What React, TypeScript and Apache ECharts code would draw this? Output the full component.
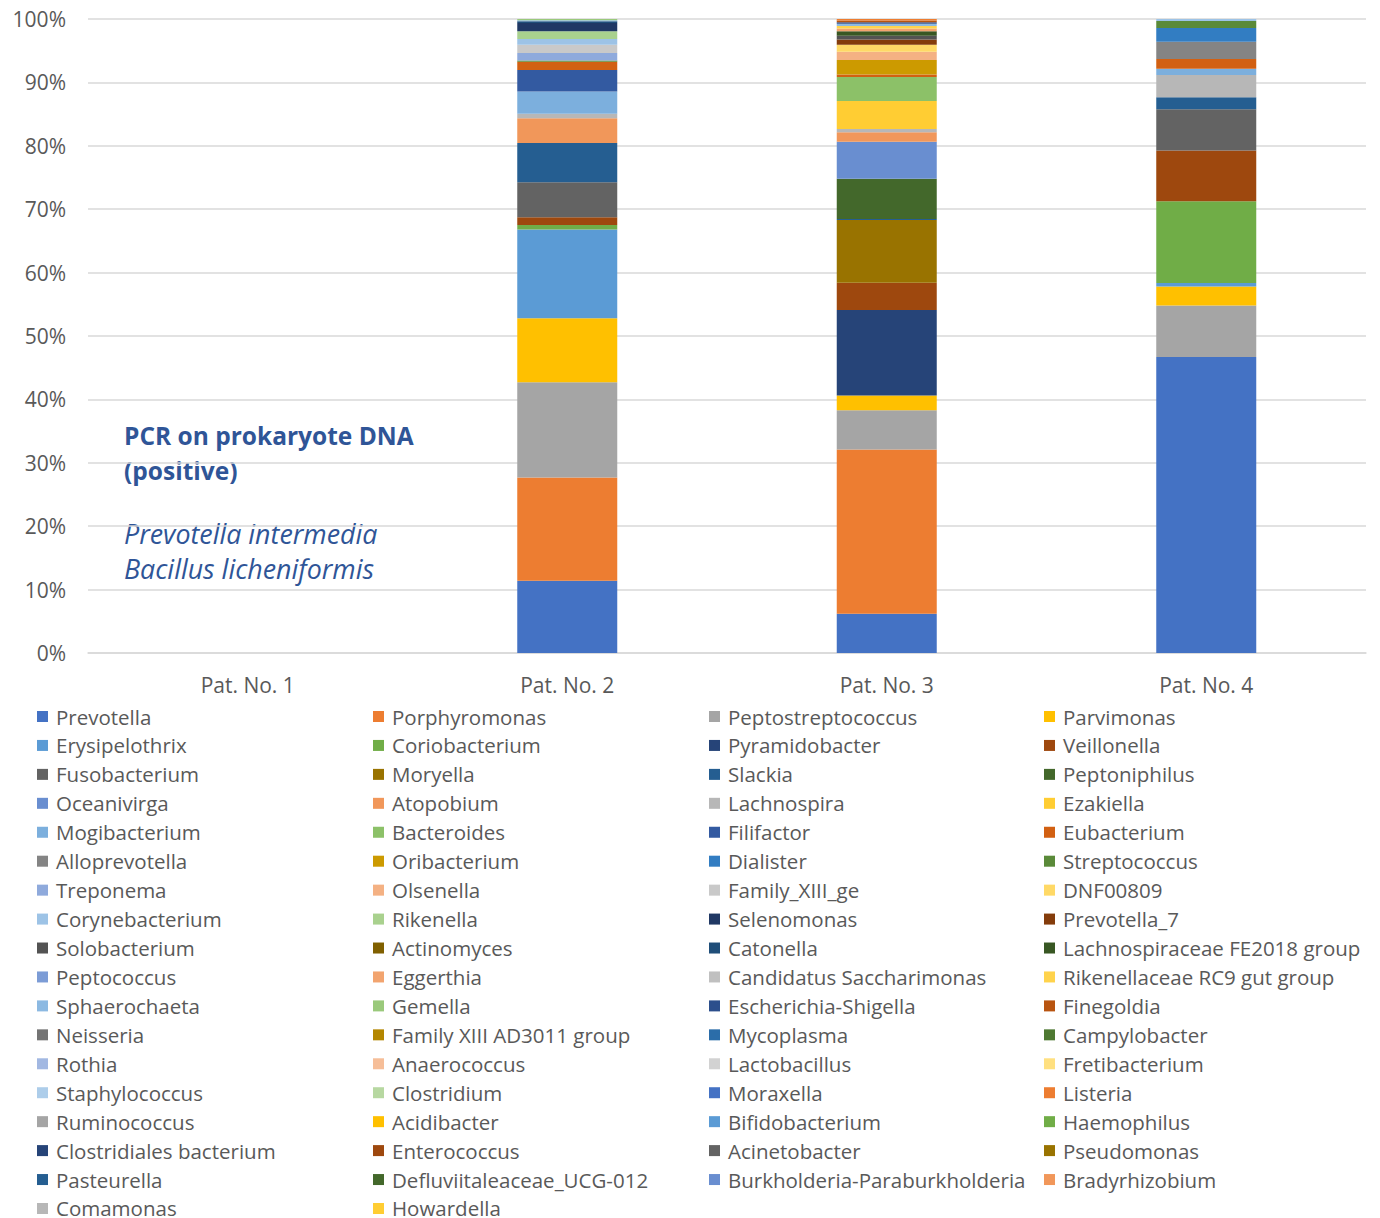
import React, { useEffect, useRef } from "react";
import * as echarts from "echarts";

const categories = ["Pat. No. 1", "Pat. No. 2", "Pat. No. 3", "Pat. No. 4"];

const genera = [
  "Prevotella", "Porphyromonas", "Peptostreptococcus", "Parvimonas",
  "Erysipelothrix", "Coriobacterium", "Pyramidobacter", "Veillonella",
  "Fusobacterium", "Moryella", "Slackia", "Peptoniphilus",
  "Oceanivirga", "Atopobium", "Lachnospira", "Ezakiella",
  "Mogibacterium", "Bacteroides", "Filifactor", "Eubacterium",
  "Alloprevotella", "Oribacterium", "Dialister", "Streptococcus",
  "Treponema", "Olsenella", "Family_XIII_ge", "DNF00809",
  "Corynebacterium", "Rikenella", "Selenomonas", "Prevotella_7",
  "Solobacterium", "Actinomyces", "Catonella", "Lachnospiraceae FE2018 group",
  "Peptococcus", "Eggerthia", "Candidatus Saccharimonas", "Rikenellaceae RC9 gut group",
  "Sphaerochaeta", "Gemella", "Escherichia-Shigella", "Finegoldia",
  "Neisseria", "Family XIII AD3011 group", "Mycoplasma", "Campylobacter",
  "Rothia", "Anaerococcus", "Lactobacillus", "Fretibacterium",
  "Staphylococcus", "Clostridium", "Moraxella", "Listeria",
  "Ruminococcus", "Acidibacter", "Bifidobacterium", "Haemophilus",
  "Clostridiales bacterium", "Enterococcus", "Acinetobacter", "Pseudomonas",
  "Pasteurella", "Defluviitaleaceae_UCG-012", "Burkholderia-Paraburkholderia", "Bradyrhizobium",
  "Comamonas", "Howardella",
];

// relative abundance (%) per patient; Pat. No. 1 has no reads
const pat1: [string, number][] = [];
const pat2: [string, number][] = [
  ["Prevotella", 11.4], ["Porphyromonas", 16.3], ["Peptostreptococcus", 15.0], ["Parvimonas", 10.1],
  ["Erysipelothrix", 14.0], ["Coriobacterium", 0.7], ["Veillonella", 1.25], ["Fusobacterium", 5.5],
  ["Slackia", 6.2], ["Atopobium", 3.9], ["Lachnospira", 0.7], ["Mogibacterium", 3.5],
  ["Filifactor", 3.4], ["Eubacterium", 1.3], ["Streptococcus", 0.2], ["Treponema", 1.2],
  ["Family_XIII_ge", 1.3], ["Corynebacterium", 0.9], ["Rikenella", 1.2], ["Selenomonas", 1.3],
  ["Catonella", 0.3], ["Sphaerochaeta", 0.15], ["Gemella", 0.2],
];
const pat3: [string, number][] = [
  ["Prevotella", 6.2], ["Porphyromonas", 25.9], ["Peptostreptococcus", 6.2], ["Parvimonas", 2.3],
  ["Pyramidobacter", 13.5], ["Veillonella", 4.3], ["Moryella", 9.9], ["Slackia", 0.15],
  ["Peptoniphilus", 6.35], ["Oceanivirga", 5.85], ["Atopobium", 1.5], ["Lachnospira", 0.5],
  ["Ezakiella", 4.4], ["Bacteroides", 3.8], ["Eubacterium", 0.4], ["Oribacterium", 2.3],
  ["Olsenella", 1.3], ["DNF00809", 1.1], ["Prevotella_7", 0.8], ["Solobacterium", 0.6],
  ["Lachnospiraceae FE2018 group", 0.7], ["Eggerthia", 0.45], ["Rikenellaceae RC9 gut group", 0.4],
  ["Sphaerochaeta", 0.35], ["Escherichia-Shigella", 0.25], ["Finegoldia", 0.25], ["Listeria", 0.25],
];
const pat4: [string, number][] = [
  ["Prevotella", 46.7], ["Peptostreptococcus", 8.1], ["Parvimonas", 3.0], ["Erysipelothrix", 0.55],
  ["Coriobacterium", 12.9], ["Veillonella", 8.0], ["Fusobacterium", 6.5], ["Slackia", 1.9],
  ["Lachnospira", 3.5], ["Mogibacterium", 1.0], ["Eubacterium", 1.55], ["Alloprevotella", 2.7],
  ["Dialister", 2.2], ["Streptococcus", 1.1], ["Corynebacterium", 0.3],
];
const patients = [pat1, pat2, pat3, pat4];

const yTicks = [0, 10, 20, 30, 40, 50, 60, 70, 80, 90, 100];

// Office theme accents and chart colour variations
const accents = ["#4472C4", "#ED7D31", "#A5A5A5", "#FFC000", "#5B9BD5", "#70AD47"];
const variations: [number, number][] = [
  [1, 0], [0.6, 0], [0.8, 0.2], [0.8, 0], [0.6, 0.4], [0.5, 0], [0.7, 0.3], [0.7, 0], [0.5, 0.5],
];

function modColor(hex: string, mod: number, off: number): string {
  const r = parseInt(hex.slice(1, 3), 16) / 255;
  const g = parseInt(hex.slice(3, 5), 16) / 255;
  const b = parseInt(hex.slice(5, 7), 16) / 255;
  const max = Math.max(r, g, b), min = Math.min(r, g, b);
  let h = 0, s = 0;
  let l = (max + min) / 2;
  if (max !== min) {
    const d = max - min;
    s = l > 0.5 ? d / (2 - max - min) : d / (max + min);
    if (max === r) h = (g - b) / d + (g < b ? 6 : 0);
    else if (max === g) h = (b - r) / d + 2;
    else h = (r - g) / d + 4;
    h /= 6;
  }
  l = Math.min(1, l * mod + off);
  const hue2rgb = (p: number, q: number, t: number) => {
    if (t < 0) t += 1;
    if (t > 1) t -= 1;
    if (t < 1 / 6) return p + (q - p) * 6 * t;
    if (t < 1 / 2) return q;
    if (t < 2 / 3) return p + (q - p) * (2 / 3 - t) * 6;
    return p;
  };
  let rr, gg, bb;
  if (s === 0) { rr = gg = bb = l; } else {
    const q = l < 0.5 ? l * (1 + s) : l + s - l * s;
    const p = 2 * l - q;
    rr = hue2rgb(p, q, h + 1 / 3);
    gg = hue2rgb(p, q, h);
    bb = hue2rgb(p, q, h - 1 / 3);
  }
  const toHex = (v: number) => Math.round(v * 255).toString(16).padStart(2, "0");
  return "#" + toHex(rr) + toHex(gg) + toHex(bb);
}

function colorFor(i: number): string {
  const base = accents[i % 6];
  const [m, o] = variations[Math.floor(i / 6) % variations.length];
  return modColor(base, m, o);
}

const FONT = "'Open Sans', 'Noto Sans', sans-serif";

export default function App() {
  const ref = useRef<HTMLDivElement>(null);
  useEffect(() => {
    if (!ref.current) return;
    const chart = echarts.init(ref.current, undefined, { renderer: "svg" });
    const series = genera.map((name, i) => ({
      name,
      type: "bar" as const,
      stack: "total",
      barWidth: 100,
      itemStyle: { color: colorFor(i) },
      data: patients.map((p) => {
        const f = p.find((e) => e[0] === name);
        return f ? f[1] : null;
      }),
    }));
    const colX = [37, 373, 709, 1044];
    const legends = colX.map((x, c) => ({
      orient: "vertical" as const,
      left: x,
      top: 706,
      height: 560,
      padding: 0,
      itemGap: 7.94,
      itemWidth: 11,
      itemHeight: 11,
      icon: "rect",
      selectedMode: false,
      data: genera.filter((_, i) => i % 4 === c),
      textStyle: { fontSize: 20.5, color: "#595959", fontFamily: FONT, lineHeight: 20, padding: [0, 0, 0, 3] },
    }));
    const textStyle = (text: string, font: string) => ({
      text, font, fill: "#2F5597", verticalAlign: "middle" as const, align: "left" as const,
    });
    chart.setOption({
      animation: false,
      backgroundColor: "#ffffff",
      grid: { left: 88, right: 14, top: 19, bottom: 565, containLabel: false },
      xAxis: {
        type: "category",
        data: categories,
        axisTick: { show: false },
        axisLine: { lineStyle: { color: "#D9D9D9", width: 1.5 } },
        axisLabel: { fontSize: 21, color: "#595959", fontFamily: FONT, margin: 21 },
      },
      yAxis: {
        type: "value",
        min: yTicks[0],
        max: yTicks[yTicks.length - 1],
        interval: 10,
        axisLine: { show: false },
        axisTick: { show: false },
        splitLine: { lineStyle: { color: "#D9D9D9", width: 1.5 } },
        axisLabel: { fontSize: 21, color: "#595959", fontFamily: FONT, margin: 22, formatter: "{value}%" },
      },
      legend: legends,
      graphic: [
        { type: "text", x: 124, y: 435, style: textStyle("PCR on prokaryote DNA", `bold 24.5px ${FONT}`) },
        { type: "text", x: 124, y: 470, style: textStyle("(positive)", `bold 24.5px ${FONT}`) },
        { type: "text", x: 124, y: 533, style: textStyle("Prevotella intermedia", `italic 26.8px ${FONT}`) },
        { type: "text", x: 124, y: 568, style: textStyle("Bacillus licheniformis", `italic 26.8px ${FONT}`) },
      ],
      series,
    });
    return () => chart.dispose();
  }, []);
  return <div ref={ref} style={{ position: "absolute", left: 0, top: 0, width: 1380, height: 1218 }} />;
}
